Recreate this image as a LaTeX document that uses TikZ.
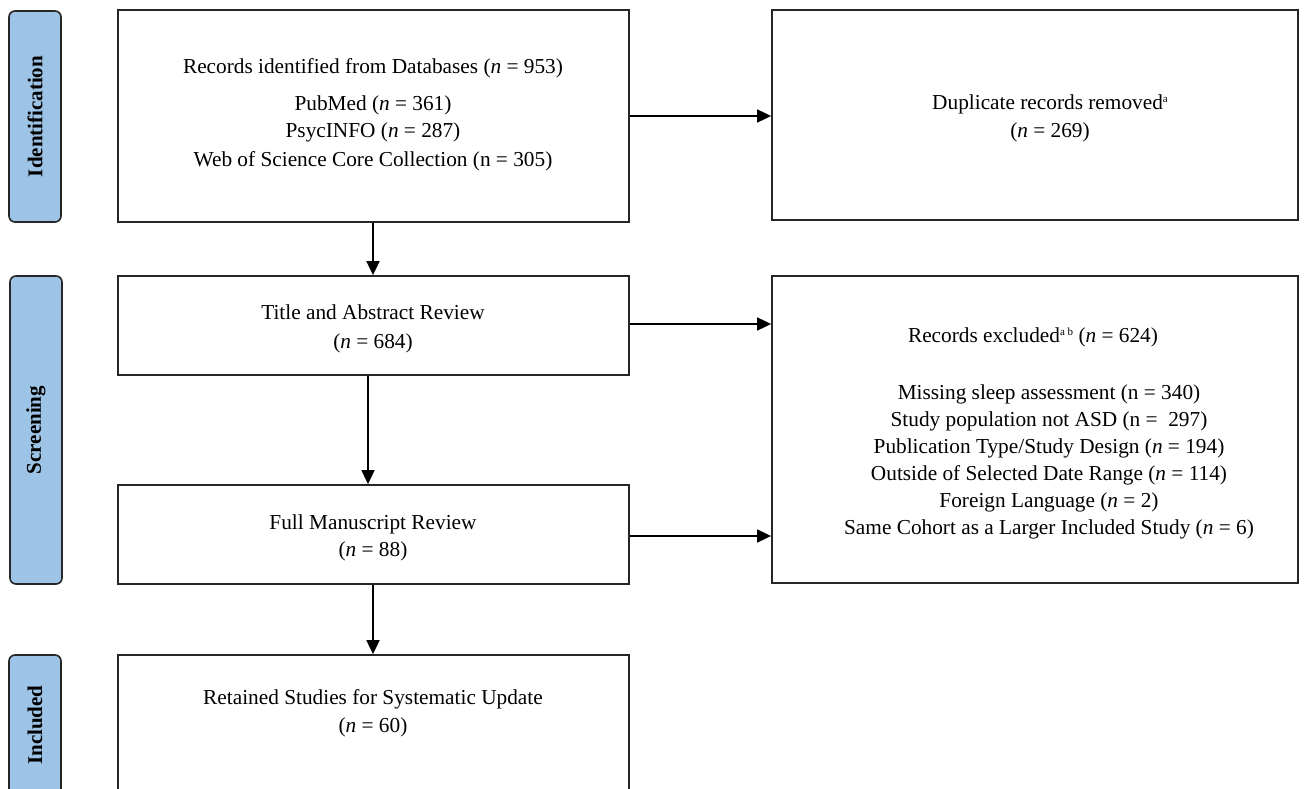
\documentclass[tikz,border=0pt]{standalone}
\usepackage{fontspec}
\setmainfont{Liberation Serif}
\usetikzlibrary{arrows.meta}
\definecolor{phaseblue}{HTML}{9DC3E6}
\definecolor{edgegray}{HTML}{262626}
\newcommand{\supsc}[1]{\raisebox{7pt}{\fontsize{11}{11}\selectfont #1}}
\begin{document}
\begin{tikzpicture}[x=1pt,y=-1pt,
  box/.style={draw=edgegray, line width=1.8pt, rectangle, inner sep=0pt},
  phase/.style={draw=edgegray, fill=phaseblue, line width=1.6pt, rounded corners=6pt,
    rectangle, inner sep=0pt, rotate=90, font=\fontsize{21}{25}\selectfont\bfseries},
  txt/.style={anchor=base, inner sep=0pt, font=\fontsize{21.3}{27}\selectfont},
  arr/.style={draw=black, line width=1.8pt, -{Triangle[length=14pt,width=13pt]}}]
\useasboundingbox[fill=white] (0,0) rectangle (1306,789);

% phase labels
\node[phase, minimum width=211pt, minimum height=52pt] (pid) at (35,116.5) {Identification};
\node[phase, minimum width=308pt, minimum height=52pt] (psc) at (36,430) {Screening};
\node[phase, minimum width=140pt, minimum height=52pt] (pin) at (35,725) {Included};

% boxes
\node[box, minimum width=511pt, minimum height=212pt] (ident) at (373.5,116) {};
\node[box, minimum width=526pt, minimum height=210pt] (dup) at (1035,115) {};
\node[box, minimum width=511pt, minimum height=99pt] (title) at (373.5,325.5) {};
\node[box, minimum width=526pt, minimum height=307pt] (excl) at (1035,429.5) {};
\node[box, minimum width=511pt, minimum height=99pt] (full) at (373.5,534.5) {};
\node[box, minimum width=511pt, minimum height=145pt] (ret) at (373.5,727.5) {};

% texts
\node[txt] (t1) at (373,74) {Records identified from Databases (\textit{n} = 953)};
\node[txt] (t2) at (373,111) {PubMed (\textit{n} = 361)};
\node[txt] (t3) at (373,138) {PsycINFO (\textit{n} = 287)};
\node[txt] (t4) at (373,166) {Web of Science Core Collection (n = 305)};

\node[txt] (d1) at (1050,110) {Duplicate records removed\supsc{a}};
\node[txt] (d2) at (1050,138) {(\textit{n} = 269)};

\node[txt] (s1) at (373,319) {Title and Abstract Review};
\node[txt] (s2) at (373,348) {(\textit{n} = 684)};

\node[txt] (e0) at (1033,342) {Records excluded\supsc{a b} (\textit{n} = 624)};
\node[txt] (e1) at (1049,399) {Missing sleep assessment (n = 340)};
\node[txt] (e2) at (1049,426) {Study population not ASD (n =\ \ 297)};
\node[txt] (e3) at (1049,453) {Publication Type/Study Design (\textit{n} = 194)};
\node[txt] (e4) at (1049,480) {Outside of Selected Date Range (\textit{n} = 114)};
\node[txt] (e5) at (1049,507) {Foreign Language (\textit{n} = 2)};
\node[txt] (e6) at (1049,534) {Same Cohort as a Larger Included Study (\textit{n} = 6)};

\node[txt] (f1) at (373,529) {Full Manuscript Review};
\node[txt] (f2) at (373,556) {(\textit{n} = 88)};

\node[txt] (r1) at (373,704) {Retained Studies for Systematic Update};
\node[txt] (r2) at (373,732) {(\textit{n} = 60)};

% connectors
\draw[arr] (ident.east) -- (ident.east -| dup.west);
\draw[arr] ([xshift=-0.5pt]ident.south) -- ([xshift=-0.5pt]title.north);
\draw[arr] ([yshift=1.5pt]title.east) -- ([yshift=1.5pt]title.east -| excl.west);
\draw[arr] ([xshift=-5.5pt]title.south) -- ([xshift=-5.5pt]full.north);
\draw[arr] ([yshift=-1.5pt]full.east) -- ([yshift=-1.5pt]full.east -| excl.west);
\draw[arr] ([xshift=-0.5pt]full.south) -- ([xshift=-0.5pt]ret.north);
\end{tikzpicture}
\end{document}
